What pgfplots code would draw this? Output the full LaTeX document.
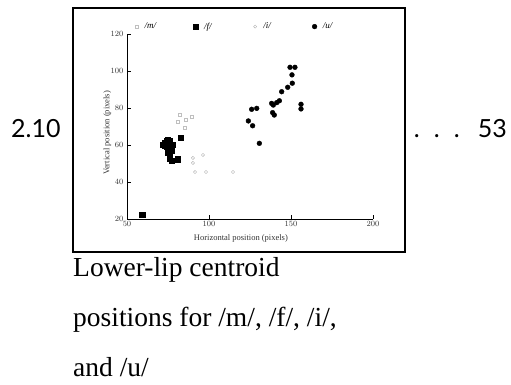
\documentclass[border=0pt]{standalone}
\usepackage{fontspec}
\setmainfont{Liberation Serif}
\newfontfamily\numfont{Lato}
\usepackage{pgfplots}
\pgfplotsset{compat=1.18}
\begin{document}
\begin{tikzpicture}[x=1pt,y=1pt]
\useasboundingbox (0,0) rectangle (511,385);
\draw[line width=1.2pt] (73,377) rectangle (405,133);
\node[anchor=base west, inner sep=0pt, font=\numfont\fontsize{25}{30}\selectfont] at (11,247) {2.10};
\foreach \xx in {416.7,436.7,456.7} {\node[anchor=base, inner sep=0pt, font=\numfont\fontsize{25}{30}\selectfont] at (\xx,247) {.};}
\node[anchor=base east, inner sep=0pt, font=\numfont\fontsize{25}{30}\selectfont] at (507,247) {53};
\node[anchor=base west, inner sep=0pt, font=\fontsize{27.5}{30}\selectfont] at (73,108) {Lower-lip centroid};
\node[anchor=base west, inner sep=0pt, font=\fontsize{27.5}{30}\selectfont] at (73,58) {positions for /m/, /f/, /i/,};
\node[anchor=base west, inner sep=0pt, font=\fontsize{27.5}{30}\selectfont] at (73,8) {and /u/};
\begin{axis}[
  at={(127pt,166pt)}, anchor=south west,
  scale only axis, width=246pt, height=185pt,
  xmin=50, xmax=200, ymin=20, ymax=120,
  axis lines=left, axis line style={-, line width=0.8pt},
  xtick={50,100,150,200}, ytick={20,40,60,80,100,120},
  tick align=inside, major tick length=4pt,
  tick style={black, line width=0.6pt},
  tick label style={font=\fontsize{8}{9}\selectfont, text=black!80},
  xticklabel style={yshift=1.5pt},
  xlabel={Horizontal position (pixels)},
  ylabel={Vertical position (pixels)},
  label style={font=\fontsize{8.5}{10}\selectfont, text=black!80},
  xlabel style={at={(axis description cs:0.463,-0.103)}, anchor=center},
  ylabel style={at={(axis description cs:-0.08,0.465)}, anchor=center},
  clip=false,
  legend columns=4,
  legend image code/.code={\path (0pt,0pt) (12pt,0pt); \draw[#1] plot coordinates {(6pt,0pt)};},
  legend style={at={(axis description cs:0.0,1.04)}, anchor=west, draw=none, fill=none,
    font=\itshape\fontsize{9}{10}\selectfont,
    nodes={text width=14pt, align=left},
    /tikz/every even column/.append style={column sep=29pt}},
]
\addplot[only marks, mark=square, mark size=1.5pt, draw=black!25, line width=0.4pt] coordinates {
(82.3,76.2) (81.1,72.4) (86,73.5) (89.6,75.1) (85.4,69.2)
};
\addlegendentry{/m/}
\addplot[only marks, mark=square*, mark size=2.6pt, black] coordinates {
(59.3,22.3) (82.7,63.8) (76.2,52.8) (77.3,51.4) (80.9,52.3)
(72,60) (73,61) (74,62) (75,63) (76,62) (74,59) (75,58) (76,60)
(77,59) (73,59.5) (75,56) (76,55) (77,57) (78,60) (75,61)
};
\addlegendentry{/f/}
\addplot[only marks, mark=o, mark size=1.6pt, draw=black!30, line width=0.4pt] coordinates {
(90.2,53) (90.2,50.3) (96.3,54.6) (91.5,45.4) (98.2,45.4) (114.6,45.4)
};
\addlegendentry{/i/}
\addplot[only marks, mark=*, mark size=2.4pt, black] coordinates {
(149.4,102) (152.4,102) (150.6,97.9) (150.8,93.4) (148,91.2) (144.3,88.8)
(142.9,83.9) (141.3,82.9) (138.2,82.5) (139.2,81.6) (156.1,82) (156.1,79.5)
(126,79.3) (129.1,79.8) (138.8,77.5) (139.8,76.2) (124,73) (126.6,70.4) (130.7,60.9)
};
\addlegendentry{/u/}
\end{axis}
\end{tikzpicture}
\end{document}
